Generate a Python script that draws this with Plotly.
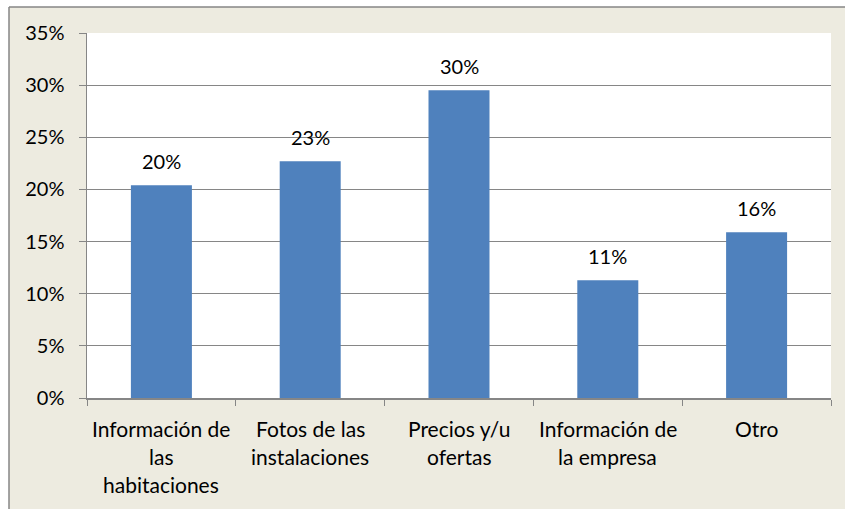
import plotly.graph_objects as go

categories = ["Información de<br>las<br>habitaciones", "Fotos de las<br>instalaciones",
              "Precios y/u<br>ofertas", "Información de<br>la empresa", "Otro"]
values = [0.204, 0.227, 0.2951, 0.113, 0.159]
y_ticks = [0, 0.05, 0.10, 0.15, 0.20, 0.25, 0.30, 0.35]
y_tick_labels = ["0%", "5%", "10%", "15%", "20%", "25%", "30%", "35%"]

W, H = 845, 509
L, R, T, B = 87, 14, 33, 111
pw, ph = W - L - R, H - T - B
FONT = "Lato"
GRAY = "#868686"
BG = "#EDEBE0"

fig = go.Figure()
fig.add_trace(go.Bar(x=list(range(len(categories))), y=values, width=0.41,
                     marker=dict(color="#4F81BD", line=dict(width=0)),
                     hoverinfo="skip"))

# data labels
for i, v in enumerate(values):
    fig.add_annotation(x=i, y=v, text=f"{round(v*100):.0f}%", showarrow=False,
                       yanchor="bottom", yshift=10, xref="x", yref="y",
                       font=dict(family=FONT, size=20, color="#000"))

# category labels, line by line
for i, c in enumerate(categories):
    for j, line in enumerate(c.split("<br>")):
        fig.add_annotation(x=i, y=0, xref="x", yref="y", text=line, showarrow=False,
                           yanchor="middle", yshift=-(30 + 28 * j),
                           font=dict(family=FONT, size=21, color="#000"))

# white area outside the chart border (top and left strips)
fig.add_shape(type="rect", xref="paper", yref="paper",
              x0=-L / pw, x1=(W - L) / pw, y0=1 + (T - 7) / ph, y1=1 + T / ph,
              line=dict(width=0), fillcolor="#FFFFFF", layer="above")
fig.add_shape(type="rect", xref="paper", yref="paper",
              x0=-L / pw, x1=-(L - 9) / pw, y0=-B / ph, y1=1 + T / ph,
              line=dict(width=0), fillcolor="#FFFFFF", layer="above")
# outer chart border (top and left edges; right/bottom lie outside the frame)
fig.add_shape(type="line", xref="paper", yref="paper",
              x0=-(L - 9) / pw, x1=(W - L) / pw, y0=1 + (T - 7) / ph, y1=1 + (T - 7) / ph,
              line=dict(color=GRAY, width=1.5), layer="above")
fig.add_shape(type="line", xref="paper", yref="paper",
              x0=-(L - 9) / pw, x1=-(L - 9) / pw, y0=-B / ph, y1=1 + (T - 7) / ph,
              line=dict(color=GRAY, width=1.5), layer="above")

fig.update_layout(
    width=W, height=H, margin=dict(l=L, r=R, t=T, b=B, pad=0),
    paper_bgcolor=BG, plot_bgcolor="#FFFFFF", showlegend=False,
    font=dict(family=FONT, size=20, color="#000"),
    xaxis=dict(range=[-0.5, len(categories) - 0.5], tickvals=[k - 0.5 for k in range(len(categories) + 1)],
               ticktext=[""] * (len(categories) + 1), ticks="outside", ticklen=6, tickcolor=GRAY,
               showline=True, linecolor=GRAY, linewidth=1.5, showgrid=False, zeroline=False),
    yaxis=dict(range=[0, 0.35], tickvals=y_ticks, ticktext=y_tick_labels, ticks="outside",
               ticklen=7, tickcolor=GRAY, ticklabelstandoff=10, showline=True, linecolor=GRAY,
               linewidth=1.5, showgrid=True, gridcolor=GRAY, gridwidth=1.2, zeroline=False,
               tickfont=dict(family=FONT, size=20)),
)

fig.write_html("out.html", config={"displayModeBar": False, "staticPlot": True},
               post_script="document.body.style.margin='0';document.body.style.overflow='hidden';")
